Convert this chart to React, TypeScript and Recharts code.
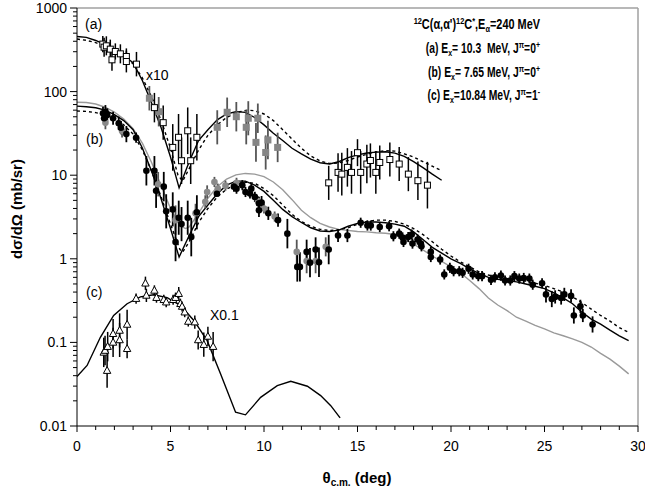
import React from 'react';
import { ComposedChart, Scatter, Line, XAxis, YAxis, ErrorBar, ReferenceLine } from 'recharts';

// ---------- data: [theta (deg), dσ/dΩ (mb/sr), error factor] ----------
const aOpen: number[][] = [
  [1.38, 370, 1.25], [1.45, 340, 1.3], [1.57, 353, 1.3], [1.78, 322, 1.3], [1.87, 240, 1.35],
  [2.05, 302, 1.25], [2.32, 283, 1.3], [2.64, 263, 1.25], [2.64, 229, 1.35], [3.18, 213, 1.4],
  [4.14, 64.3, 1.5], [4.61, 42.5, 1.6], [5.12, 21.5, 1.9], [5.43, 28.4, 1.9], [5.59, 14.9, 1.9],
  [5.92, 34, 1.9], [6.08, 14.9, 1.9], [6.41, 28.4, 1.9],
  [13.46, 8.1, 1.6], [13.96, 10.8, 1.7], [14.16, 10.3, 1.8], [14.46, 12.4, 1.7], [14.68, 10.8, 1.8],
  [15.0, 18.6, 1.45], [15.17, 10.8, 1.8], [15.5, 13.6, 1.7], [15.69, 15.0, 1.6], [15.98, 10.8, 1.8],
  [16.19, 14.2, 1.6], [16.73, 15.4, 1.6], [17.23, 13.6, 1.6], [17.72, 10.3, 1.6], [18.23, 8.6, 1.7],
  [18.74, 7.6, 1.9],
];
const aGray: number[][] = [
  [3.87, 83.3, 1.4], [4.37, 57.5, 1.5], [7.5, 37.4, 1.6], [8.03, 56.6, 1.5], [8.52, 50.1, 1.5],
  [9.05, 37.4, 1.6], [9.16, 48, 1.6], [9.67, 48, 1.5], [9.57, 24.7, 1.7], [10.21, 26.4, 1.7],
  [10.09, 18.7, 1.6], [10.73, 21.5, 1.5],
];
const bBlack: number[][] = [
  [1.39, 55, 1.2], [1.45, 48, 1.2], [1.52, 57.5, 1.2], [1.62, 52.6, 1.2], [1.93, 48, 1.2],
  [2.23, 41.8, 1.2], [2.35, 37, 1.2], [2.64, 31, 1.25], [3.16, 28.1, 1.15],
  [3.71, 11.3, 1.5], [4.14, 11.3, 1.5], [4.23, 6.5, 1.6], [4.64, 7.3, 1.5], [4.77, 3.7, 1.6],
  [5.12, 3.9, 1.6], [5.27, 1.59, 1.7], [5.44, 3.1, 1.6], [5.59, 2.6, 1.6], [5.92, 3.1, 1.6],
  [6.11, 1.82, 1.7], [6.41, 3.6, 1.6], [7.48, 6.0, 1.08],
  [8.39, 7.3, 1.15], [8.53, 6.9, 1.15], [8.84, 7.6, 1.15], [9.01, 6.3, 1.15], [9.25, 6.05, 1.15],
  [9.32, 6.9, 1.15], [9.51, 5.5, 1.15], [9.73, 4.6, 1.2], [9.87, 4.7, 1.2], [9.73, 3.8, 1.2],
  [10.23, 3.5, 1.2], [10.75, 2.9, 1.2], [11.25, 2.0, 1.5], [11.78, 0.8, 1.5], [11.92, 0.8, 1.5],
  [12.28, 1.21, 1.4], [12.46, 0.9, 1.5], [12.76, 1.29, 1.4], [12.94, 0.91, 1.5], [13.46, 1.29, 1.5],
  [13.96, 1.9, 1.2], [14.46, 1.9, 1.2], [15.17, 2.7, 1.15], [15.53, 2.5, 1.15], [15.71, 2.5, 1.15],
  [16.19, 2.4, 1.15], [16.69, 2.45, 1.15], [16.92, 1.86, 1.15], [17.23, 2.0, 1.15], [17.41, 1.8, 1.15],
  [17.46, 1.59, 1.15], [17.71, 1.82, 1.15], [17.9, 1.95, 1.15], [17.94, 1.52, 1.15], [18.21, 1.7, 1.15],
  [18.39, 1.52, 1.15], [18.42, 1.41, 1.15], [18.92, 1.21, 1.15], [18.92, 1.05, 1.15], [19.42, 0.98, 1.15],
  [19.64, 0.65, 1.15], [19.94, 0.78, 1.15], [20.14, 0.71, 1.15], [20.44, 0.71, 1.15], [20.62, 0.68, 1.15],
  [20.94, 0.76, 1.15], [21.16, 0.65, 1.15], [21.46, 0.62, 1.15], [21.66, 0.62, 1.15], [22.14, 0.56, 1.15],
  [22.35, 0.6, 1.15], [22.67, 0.63, 1.15], [22.89, 0.55, 1.15], [23.17, 0.55, 1.15], [23.39, 0.62, 1.15],
  [23.65, 0.58, 1.15], [23.89, 0.59, 1.15], [24.19, 0.58, 1.15], [24.37, 0.49, 1.15], [24.87, 0.51, 1.15],
  [25.08, 0.375, 1.25], [25.39, 0.33, 1.25], [25.57, 0.35, 1.2], [25.89, 0.34, 1.2], [26.06, 0.375, 1.2],
  [26.42, 0.36, 1.2], [26.57, 0.21, 1.25], [26.92, 0.27, 1.2], [27.05, 0.21, 1.2], [27.57, 0.164, 1.25],
];
const bGray: number[][] = [
  [1.52, 42.5, 1.2], [2.41, 33.8, 1.2], [4.34, 7.8, 1.4], [5.27, 2.9, 1.5], [6.34, 3.5, 1.3],
  [6.86, 4.8, 1.2], [6.96, 6.3, 1.2], [7.35, 8.3, 1.15], [7.53, 6.9, 1.15], [7.94, 7.5, 1.15],
  [8.53, 8.1, 1.15], [9.67, 4.9, 1.15], [10.0, 4.0, 1.15], [10.57, 3.2, 1.15], [11.75, 1.21, 1.4],
  [12.28, 0.94, 1.4], [12.76, 0.94, 1.4], [13.3, 1.39, 1.3],
];
const cTri: number[][] = [
  [1.43, 0.076, 1.5], [1.5, 0.08, 1.5], [1.64, 0.089, 1.5], [1.61, 0.046, 1.6], [1.93, 0.1, 1.5],
  [1.93, 0.127, 1.5], [2.28, 0.107, 1.6], [2.28, 0.139, 1.6], [2.68, 0.164, 1.5], [2.68, 0.084, 1.3],
  [3.16, 0.334, 1.15], [3.66, 0.51, 1.2], [3.71, 0.365, 1.2], [4.14, 0.419, 1.15], [4.25, 0.343, 1.15],
  [4.64, 0.324, 1.15], [4.77, 0.303, 1.15], [5.14, 0.324, 1.15], [5.27, 0.343, 1.15], [5.44, 0.383, 1.2],
  [5.53, 0.29, 1.15], [5.62, 0.269, 1.15], [5.76, 0.23, 1.15], [5.95, 0.178, 1.15], [6.3, 0.175, 1.2],
  [6.48, 0.107, 1.3], [6.78, 0.094, 1.4], [7.0, 0.118, 1.3], [7.28, 0.089, 1.5],
];

// ---------- curves: [theta, value] ----------
const aSolid: number[][] = [
  [0, 456], [0.5, 445], [1, 409], [1.5, 365], [2, 316], [2.5, 268], [3, 222], [3.5, 135], [4, 72],
  [4.5, 37], [5, 16.5], [5.46, 7.06], [6, 14.5], [6.5, 26], [7, 35], [7.5, 46], [8, 54], [8.5, 57.6],
  [9, 56.5], [9.5, 49], [10, 40], [10.5, 31.7], [11, 26], [11.5, 21], [12, 18], [12.5, 15.6], [13, 14.1],
  [13.5, 13.6], [14, 14.5], [14.5, 16.2], [15, 17.5], [15.5, 18.4], [16, 18.9], [16.5, 19.1], [17, 18.4],
  [17.5, 16.8], [18, 14.5], [18.5, 12.3], [19, 10.3], [19.5, 8.7],
];
const aDashed: number[][] = [
  [0, 425], [0.5, 410], [1, 385], [1.5, 345], [2, 305], [2.5, 262], [3, 215], [3.5, 145], [4, 85],
  [4.5, 45], [5, 21], [5.4, 10], [5.65, 8.5], [6, 12], [6.5, 20], [7, 30], [7.5, 40], [8, 49], [8.5, 56],
  [9.1, 60], [9.5, 59], [10, 54], [10.5, 45], [11, 35], [11.5, 27], [12, 21], [12.5, 17], [13, 14.8],
  [13.5, 13.8], [14, 14], [14.5, 15], [15, 16.5], [15.5, 17.8], [16, 19], [16.5, 19.6], [17, 19.4],
  [17.5, 18], [18, 16.5], [18.5, 14.5], [19, 12.8], [19.5, 11.3],
];
const bSolid: number[][] = [
  [0, 67], [0.5, 66], [1, 64], [1.5, 60], [2, 53], [2.5, 45], [3, 35], [3.5, 21], [4, 11], [4.5, 5.2],
  [5, 2.3], [5.46, 1.05], [6, 1.9], [6.5, 3.2], [7, 4.4], [7.5, 6.0], [8, 7.6], [8.5, 8.5], [9, 8.5],
  [9.5, 7.6], [10, 6.4], [10.5, 5.0], [11, 3.9], [11.5, 3.2], [12, 2.72], [12.5, 2.35], [13, 2.15],
  [13.5, 2.12], [14, 2.2], [14.5, 2.45], [15, 2.65], [15.5, 2.75], [16, 2.76], [16.5, 2.7], [17, 2.6],
  [17.5, 2.45], [18, 2.1], [18.5, 1.7], [19, 1.37], [19.5, 1.17], [20, 1.0], [20.5, 0.88], [21, 0.76],
  [21.5, 0.67], [22, 0.6], [22.5, 0.57], [23, 0.55], [23.5, 0.53], [24, 0.5], [24.5, 0.47], [25, 0.44],
  [25.5, 0.39], [26, 0.34], [26.5, 0.29], [27, 0.23], [27.5, 0.19], [28, 0.165], [28.5, 0.14],
  [29, 0.12], [29.5, 0.105],
];
const bDashed: number[][] = [
  [0, 58.7], [0.5, 58], [1, 56], [1.5, 53], [2, 47], [2.5, 40], [3, 31], [3.5, 20], [4, 11], [4.5, 5.5],
  [5, 2.6], [5.5, 1.3], [5.65, 1.2], [6, 1.6], [6.5, 2.7], [7, 4.0], [7.5, 5.5], [8, 6.8], [8.5, 7.8],
  [9, 8.3], [9.5, 8.0], [10, 6.9], [10.5, 5.7], [11, 4.4], [11.5, 3.4], [12, 2.8], [12.5, 2.45],
  [13, 2.25], [13.5, 2.18], [14, 2.22], [14.5, 2.35], [15, 2.6], [15.5, 2.8], [16, 2.9], [16.5, 2.9],
  [17, 2.8], [17.5, 2.6], [18, 2.3], [18.5, 1.95], [19, 1.6], [19.5, 1.3], [20, 1.08], [20.5, 0.92],
  [21, 0.8], [21.5, 0.7], [22, 0.64], [22.5, 0.6], [23, 0.58], [23.5, 0.56], [24, 0.54], [24.5, 0.51],
  [25, 0.48], [25.5, 0.44], [26, 0.4], [26.5, 0.35], [27, 0.3], [27.5, 0.25], [28, 0.21], [28.5, 0.18],
  [29, 0.15], [29.5, 0.132],
];
const bGrayCurve: number[][] = [
  [0, 74.6], [0.5, 74], [1, 71], [1.5, 65], [2, 57], [2.5, 47], [3, 36], [3.5, 24], [4, 14], [4.5, 7.5],
  [5, 4.0], [5.5, 2.5], [5.8, 2.3], [6, 2.4], [6.5, 3.5], [7, 5.3], [7.5, 7.3], [8, 9.0], [8.5, 10.1],
  [9, 10.5], [9.5, 10.3], [10, 9.6], [10.5, 8.3], [11, 6.7], [11.5, 5.1], [12, 3.8], [12.5, 3.1],
  [13, 2.65], [13.5, 2.4], [14, 2.25], [15, 2.12], [15.5, 2.1], [16, 2.05], [16.5, 2.02], [17, 1.95],
  [17.5, 1.75], [18, 1.5], [18.5, 1.28], [19, 1.08], [19.5, 0.93], [20, 0.8], [20.5, 0.68], [21, 0.55],
  [21.5, 0.44], [22, 0.34], [22.5, 0.28], [23, 0.24], [23.5, 0.2], [24, 0.18], [24.5, 0.16], [25, 0.145],
  [25.5, 0.13], [26, 0.12], [26.5, 0.11], [27, 0.1], [27.5, 0.088], [28, 0.074], [28.5, 0.063],
  [29, 0.052], [29.5, 0.042],
];
const cSolid: number[][] = [
  [0, 0.039], [0.54, 0.053], [1.25, 0.115], [1.96, 0.21], [2.68, 0.29], [3.39, 0.35], [4.1, 0.372],
  [4.82, 0.343], [5.53, 0.277], [6.25, 0.183], [6.96, 0.105], [7.68, 0.042], [8.48, 0.0146],
  [9.01, 0.0136], [9.82, 0.022], [10.71, 0.0304], [11.43, 0.0343], [12.32, 0.0299], [13.03, 0.0231],
  [13.57, 0.0175], [14.07, 0.0125],
];

// ---------- axes ----------
const xTicks = Array.from({ length: 31 }, (_, i) => i);
const xLabels = ['0', '5', '10', '15', '20', '25', '30'];
const yMajor = [0.01, 0.1, 1, 10, 100, 1000];
const yLabels = ['0.01', '0.1', '1', '10', '100', '1000'];
const yTicks: number[] = [];
yMajor.slice(0, 5).forEach((d) => { for (let k = 1; k <= 9; k++) yTicks.push(+(d * k).toPrecision(6)); });
yTicks.push(1000);

const FONT = '"Liberation Sans", Arial, sans-serif';

const pts = (arr: number[][]) => arr.map(([x, y, f]) => ({ x, y, err: [y - y / f, y * f - y] }));
const crv = (arr: number[][]) => arr.map(([x, y]) => ({ x, y }));

const XTick = (props: any) => {
  const { x, y, payload } = props;
  const v = payload.value;
  const major = v % 5 === 0;
  return (
    <g>
      <line x1={x} x2={x} y1={y} y2={y + (major ? 6 : 4)} stroke="#000" strokeWidth={1} />
      {major && (
        <text x={x} y={y + 25} textAnchor="middle" fontSize={14} fontFamily={FONT} fill="#000">
          {xLabels[v / 5]}
        </text>
      )}
    </g>
  );
};

const YTick = (props: any) => {
  const { x, y, payload } = props;
  const v = payload.value;
  const idx = yMajor.findIndex((m) => Math.abs(m - v) / m < 1e-6);
  const major = idx >= 0;
  return (
    <g>
      <line x1={x - (major ? 7 : 4)} x2={x} y1={y} y2={y} stroke="#000" strokeWidth={1} />
      {major && (
        <text x={x - 10} y={y + 5} textAnchor="end" fontSize={14} fontFamily={FONT} fill="#000">
          {yLabels[idx]}
        </text>
      )}
    </g>
  );
};

const OpenSquare = (p: any) => (
  <rect x={p.cx - 3} y={p.cy - 3} width={6} height={6} fill="#fff" stroke="#000" strokeWidth={1} />
);
const GraySquare = (p: any) => (
  <rect x={p.cx - 3.5} y={p.cy - 3.5} width={7} height={7} fill="#858585" />
);
const BlackCircle = (p: any) => <circle cx={p.cx} cy={p.cy} r={3.3} fill="#000" />;
const GrayCircle = (p: any) => <circle cx={p.cx} cy={p.cy} r={3.3} fill="#8a8a8a" />;
const Triangle = (p: any) => (
  <polygon
    points={`${p.cx},${p.cy - 4} ${p.cx - 3.7},${p.cy + 2.8} ${p.cx + 3.7},${p.cy + 2.8}`}
    fill="#fff"
    stroke="#000"
    strokeWidth={1}
  />
);

const SUP = 9.5;
const LFS = 14;

export default function App() {
  return (
    <div style={{ position: 'absolute', left: 0, top: 0, width: 645, height: 494, background: '#fff' }}>
      <ComposedChart width={645} height={494} margin={{ top: 8, right: 7, bottom: 38, left: 0 }}>
        <XAxis
          dataKey="x"
          type="number"
          domain={[0, 30]}
          ticks={xTicks}
          allowDataOverflow
          tick={<XTick />}
          tickLine={false}
          tickSize={0}
          tickMargin={0}
          height={30}
          stroke="#000"
          interval={0}
        />
        <YAxis
          dataKey="y"
          type="number"
          scale="log"
          domain={[0.01, 1000]}
          ticks={yTicks}
          allowDataOverflow
          tick={<YTick />}
          tickLine={false}
          tickSize={0}
          tickMargin={0}
          width={77}
          stroke="#000"
          interval={0}
        />
        <ReferenceLine y={1000} stroke="#a0a0a0" strokeWidth={1.5} />
        <ReferenceLine x={30} stroke="#a0a0a0" strokeWidth={1.5} />

        <Line data={crv(bGrayCurve)} dataKey="y" type="linear" dot={false} stroke="#9a9a9a" strokeWidth={1.4} isAnimationActive={false} />
        <Line data={crv(aDashed)} dataKey="y" type="linear" dot={false} stroke="#000" strokeWidth={1.4} strokeDasharray="3 3" isAnimationActive={false} />
        <Line data={crv(aSolid)} dataKey="y" type="linear" dot={false} stroke="#000" strokeWidth={1.4} isAnimationActive={false} />
        <Line data={crv(bDashed)} dataKey="y" type="linear" dot={false} stroke="#000" strokeWidth={1.4} strokeDasharray="3 3" isAnimationActive={false} />
        <Line data={crv(bSolid)} dataKey="y" type="linear" dot={false} stroke="#000" strokeWidth={1.4} isAnimationActive={false} />
        <Line data={crv(cSolid)} dataKey="y" type="linear" dot={false} stroke="#000" strokeWidth={1.4} isAnimationActive={false} />

        <Scatter data={pts(aGray)} dataKey="y" shape={GraySquare} isAnimationActive={false}>
          <ErrorBar dataKey="err" direction="y" width={0} stroke="#555" strokeWidth={1.8} />
        </Scatter>
        <Scatter data={pts(aOpen)} dataKey="y" shape={OpenSquare} isAnimationActive={false}>
          <ErrorBar dataKey="err" direction="y" width={0} stroke="#000" strokeWidth={1.5} />
        </Scatter>
        <Scatter data={pts(bGray)} dataKey="y" shape={GrayCircle} isAnimationActive={false}>
          <ErrorBar dataKey="err" direction="y" width={0} stroke="#555" strokeWidth={1.8} />
        </Scatter>
        <Scatter data={pts(bBlack)} dataKey="y" shape={BlackCircle} isAnimationActive={false}>
          <ErrorBar dataKey="err" direction="y" width={0} stroke="#000" strokeWidth={1.8} />
        </Scatter>
        <Scatter data={pts(cTri)} dataKey="y" shape={Triangle} isAnimationActive={false}>
          <ErrorBar dataKey="err" direction="y" width={0} stroke="#000" strokeWidth={1.5} />
        </Scatter>
      </ComposedChart>

      <svg width={645} height={494} style={{ position: 'absolute', left: 0, top: 0, pointerEvents: 'none' }} fontFamily={FONT}>
        <text x={85} y={29} fontSize={14}>(a)</text>
        <text x={146} y={80} fontSize={14}>x10</text>
        <text x={86} y={144} fontSize={14}>(b)</text>
        <text x={86} y={297} fontSize={14}>(c)</text>
        <text x={210} y={320} fontSize={14}>X0.1</text>

        <g fontWeight="bold" fill="#000">
          <g transform="translate(540 29) scale(0.78 1)">
            <text x={0} y={0} textAnchor="end" fontSize={LFS}>
              <tspan fontSize={SUP} dy={-5}>12</tspan>
              <tspan dy={5}>C(α,α')</tspan>
              <tspan fontSize={SUP} dy={-5}>12</tspan>
              <tspan dy={5}>C</tspan>
              <tspan fontSize={SUP} dy={-5}>*</tspan>
              <tspan dy={5}>,E</tspan>
              <tspan fontSize={SUP} dy={3}>α</tspan>
              <tspan dy={-3}>=240 MeV</tspan>
            </text>
          </g>
          <g transform="translate(540 53) scale(0.74 1)">
            <text x={0} y={0} textAnchor="end" fontSize={LFS} style={{ whiteSpace: 'pre' }}>
              <tspan>(a) E</tspan>
              <tspan fontSize={SUP} dy={3}>x</tspan>
              <tspan dy={-3}>= 10.3  MeV, J</tspan>
              <tspan fontSize={SUP} dy={-5}>π</tspan>
              <tspan dy={5}>=0</tspan>
              <tspan fontSize={SUP} dy={-5}>+</tspan>
            </text>
          </g>
          <g transform="translate(540 77) scale(0.74 1)">
            <text x={0} y={0} textAnchor="end" fontSize={LFS}>
              <tspan>(b) E</tspan>
              <tspan fontSize={SUP} dy={3}>x</tspan>
              <tspan dy={-3}>= 7.65 MeV, J</tspan>
              <tspan fontSize={SUP} dy={-5}>π</tspan>
              <tspan dy={5}>=0</tspan>
              <tspan fontSize={SUP} dy={-5}>+</tspan>
            </text>
          </g>
          <g transform="translate(540 100) scale(0.74 1)">
            <text x={0} y={0} textAnchor="end" fontSize={LFS}>
              <tspan>(c) E</tspan>
              <tspan fontSize={SUP} dy={3}>x</tspan>
              <tspan dy={-3}>=10.84 MeV, J</tspan>
              <tspan fontSize={SUP} dy={-5}>π</tspan>
              <tspan dy={5}>=1</tspan>
              <tspan fontSize={SUP} dy={-5}>-</tspan>
            </text>
          </g>

          <text x={22} y={209} transform="rotate(-90 22 209)" textAnchor="middle" fontSize={15}>
            dσ/dΩ (mb/sr)
          </text>
          <text x={357} y={483} textAnchor="middle" fontSize={15}>
            <tspan>θ</tspan>
            <tspan fontSize={10} dy={3}>c.m.</tspan>
            <tspan dy={-3}> (deg)</tspan>
          </text>
        </g>
      </svg>
    </div>
  );
}
